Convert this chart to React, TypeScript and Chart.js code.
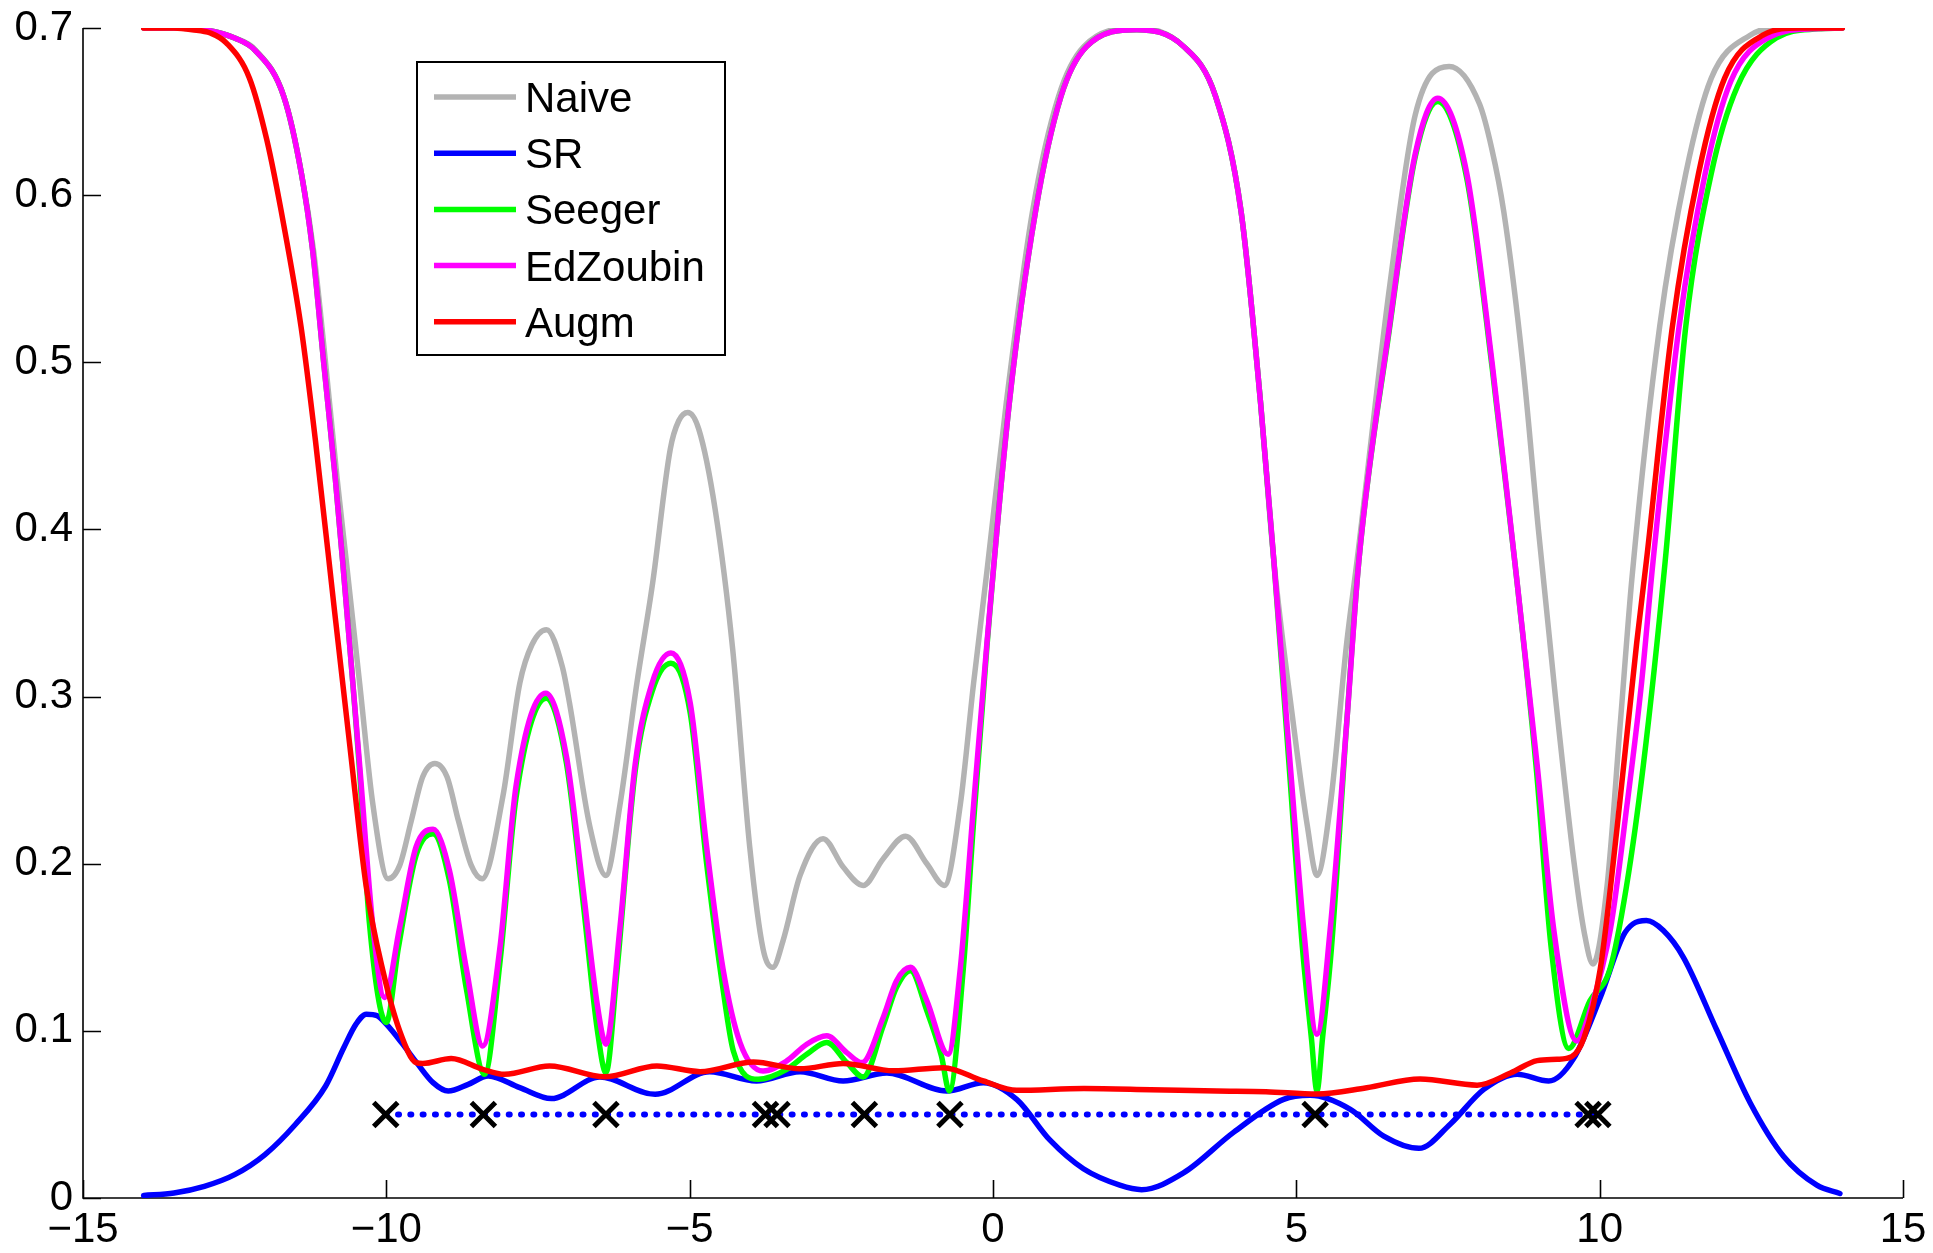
import React, { useEffect, useRef } from "react";
import { Chart, registerables } from "chart.js";

Chart.register(...registerables);

// ---- data -------------------------------------------------------------

const seriesNames = ["Naive", "SR", "Seeger", "EdZoubin", "Augm"];
const seriesColors = ["#b3b3b3", "#0000ff", "#00ff00", "#ff00ff", "#ff0000"];

const naiveX = [
  -14, -13.5, -13.0, -12.5, -12.16, -11.69, -11.4, -11.2, -11.0, -10.81, -10.66, -10.44, -10.22, -9.97, -9.78,
  -9.59, -9.4, -9.2, -9.0, -8.81, -8.6, -8.42, -8.08, -7.8, -7.6, -7.36, -7.1, -6.98, -6.65, -6.38, -6.15,
  -5.87, -5.61, -5.32, -5.18, -5.03, -4.85, -4.58, -4.29, -4.01, -3.79, -3.63, -3.46, -3.18, -2.8, -2.47,
  -2.14, -1.81, -1.44, -1.09, -0.8, -0.54, -0.32, -0.1, 0.22, 0.65, 1.08, 1.5, 2.37, 3.14, 3.67, 4.09,
  4.41, 4.63, 4.95, 5.18, 5.34, 5.56, 5.83, 6.0, 6.535, 6.96, 7.52, 8.02, 8.22, 8.42, 8.73, 8.99, 9.27, 9.58,
  9.75, 9.89, 10.12, 10.34, 10.53, 10.99, 11.42, 11.84, 12.48, 13.0, 14.0,
];
const naiveY = [
  0.7, 0.7, 0.699, 0.694, 0.687, 0.659, 0.613, 0.567, 0.499, 0.43, 0.381, 0.308, 0.235, 0.191, 0.199,
  0.2255, 0.252, 0.26, 0.252, 0.2255, 0.199, 0.191, 0.24, 0.308, 0.331, 0.34, 0.318, 0.296, 0.223, 0.193, 0.235,
  0.308, 0.368, 0.448, 0.465, 0.47, 0.46, 0.412, 0.328, 0.21, 0.149, 0.138, 0.154, 0.193, 0.215, 0.198,
  0.187, 0.203, 0.2165, 0.2, 0.187, 0.235, 0.308, 0.375, 0.476, 0.59, 0.659, 0.689, 0.7, 0.689, 0.659, 0.59,
  0.476, 0.381, 0.284, 0.223, 0.193, 0.235, 0.332, 0.381, 0.5445, 0.648, 0.677, 0.6545, 0.628, 0.59, 0.5, 0.4, 0.3, 0.2,
  0.158, 0.14, 0.186, 0.284, 0.37, 0.5216, 0.613, 0.67, 0.6957, 0.7, 0.7,
];

const srX = [
  -14, -13.5, -13.0, -12.5, -12.0, -11.5, -11.0, -10.7, -10.5, -10.33, -10.15, -10.0, -9.75, -9.5, -9.23,
  -8.98, -8.65, -8.32, -7.8, -7.28, -6.48, -5.57, -4.67, -3.9, -3.18, -2.47, -1.75, -0.76, -0.16, 0.39,
  0.94, 1.49, 2.09, 2.45, 3.14, 3.97, 4.79, 5.23, 5.89, 6.44, 7.02, 7.54, 8.09, 8.64, 9.16, 9.57, 10.01,
  10.39, 10.55, 10.77, 11.05, 11.38, 11.93, 12.48, 13.03, 13.58, 13.96,
];
const srY = [
  0.0015, 0.003, 0.007, 0.014, 0.026, 0.044, 0.067, 0.09, 0.104, 0.11, 0.109, 0.104, 0.093, 0.081, 0.069,
  0.064, 0.068, 0.073, 0.066, 0.0595, 0.0724, 0.062, 0.0756, 0.07, 0.0756, 0.07, 0.0748, 0.064, 0.069, 0.059,
  0.0346, 0.0175, 0.0077, 0.005, 0.015, 0.0394, 0.059, 0.0614, 0.053, 0.037, 0.0297, 0.0443, 0.065, 0.0741, 0.07, 0.0834, 0.12,
  0.157, 0.164, 0.166, 0.16, 0.144, 0.1005, 0.057, 0.025, 0.0077, 0.0027,
];

const seegerX = [
  -14, -13.5, -13.0, -12.5, -12.16, -11.69, -11.4, -11.215, -11.03, -10.84, -10.72, -10.44, -10.28, -10.0,
  -9.8, -9.51, -9.23, -8.96, -8.68, -8.38, -8.13, -7.86, -7.36, -7.03, -6.76, -6.52, -6.38, -6.2, -5.9,
  -5.62, -5.31, -4.99, -4.72, -4.45, -4.28, -3.87, -3.4, -3.07, -2.74, -2.41, -2.14, -1.81, -1.59, -1.36,
  -1.09, -0.85, -0.72, -0.49, -0.32, -0.1, 0.27, 0.7, 1.12, 1.545, 2.37, 3.14, 3.67, 4.09, 4.41, 4.63,
  4.88, 5.1, 5.25, 5.34, 5.43, 5.58, 5.83, 6.03, 6.535, 6.96, 7.33, 7.81, 8.23, 8.6, 8.95, 9.2, 9.49,
  9.84, 10.17, 10.44, 10.72, 11.08, 11.42, 11.84, 12.27, 12.91, 13.6, 14.0,
];
const seegerY = [
  0.7, 0.7, 0.699, 0.694, 0.6865, 0.659, 0.613, 0.567, 0.499, 0.43, 0.381, 0.255, 0.165, 0.105,
  0.15, 0.205, 0.218, 0.19, 0.125, 0.074, 0.14, 0.24, 0.299, 0.26, 0.178, 0.1, 0.075, 0.135, 0.255,
  0.303, 0.32, 0.29, 0.2, 0.125, 0.088, 0.071, 0.077, 0.086, 0.093, 0.081, 0.0724, 0.103, 0.126, 0.136,
  0.112, 0.085, 0.064, 0.137, 0.225, 0.33, 0.476, 0.59, 0.659, 0.689, 0.699, 0.689, 0.659, 0.59, 0.476, 0.381,
  0.259, 0.15, 0.095, 0.064, 0.095, 0.15, 0.284, 0.381, 0.52, 0.623, 0.656, 0.61, 0.496, 0.381, 0.259, 0.15, 0.0895,
  0.118, 0.137, 0.186, 0.259, 0.381, 0.5216, 0.613, 0.665, 0.694, 0.6995, 0.7,
];

const edZoubinX = [
  -14, -13.5, -13.0, -12.5, -12.16, -11.69, -11.4, -11.215, -11.03, -10.84, -10.72, -10.44, -10.22, -10.03,
  -9.78, -9.51, -9.23, -8.96, -8.68, -8.41, -8.13, -7.86, -7.37, -7.03, -6.76, -6.52, -6.38, -6.15, -5.9,
  -5.62, -5.31, -4.99, -4.72, -4.45, -4.17, -3.79, -3.4, -3.07, -2.74, -2.41, -2.16, -1.81, -1.59, -1.36,
  -1.09, -0.74, -0.54, -0.32, -0.1, 0.27, 0.7, 1.12, 1.545, 2.37, 3.14, 3.67, 4.09, 4.41, 4.63, 4.9,
  5.12, 5.34, 5.56, 5.83, 6.03, 6.535, 6.96, 7.33, 7.81, 8.23, 8.6, 8.97, 9.24, 9.62, 9.85, 10.18, 10.45,
  10.69, 10.88, 11.31, 11.74, 12.16, 12.8, 13.5, 14.0,
];
const edZoubinY = [
  0.7, 0.7, 0.699, 0.694, 0.6865, 0.659, 0.613, 0.567, 0.499, 0.43, 0.381, 0.259, 0.162, 0.12,
  0.162, 0.21, 0.2206, 0.196, 0.137, 0.091, 0.149, 0.247, 0.302, 0.264, 0.186, 0.115, 0.092, 0.1615, 0.259,
  0.308, 0.326, 0.296, 0.21, 0.137, 0.093, 0.076, 0.082, 0.092, 0.097, 0.087, 0.081, 0.108, 0.13, 0.138,
  0.118, 0.086, 0.137, 0.235, 0.332, 0.476, 0.59, 0.659, 0.689, 0.699, 0.689, 0.659, 0.59, 0.476, 0.381, 0.259,
  0.1615, 0.098, 0.1615, 0.284, 0.381, 0.5216, 0.6247, 0.658, 0.613, 0.4987, 0.381, 0.259, 0.1615, 0.094, 0.113, 0.1615, 0.235,
  0.308, 0.381, 0.5216, 0.613, 0.668, 0.6946, 0.6995, 0.7,
];

const augmX = [
  -14, -13.5, -13.2, -12.9, -12.635, -12.256, -11.97, -11.69, -11.405, -11.168, -10.85, -10.6, -10.33,
  -10.05, -9.78, -9.51, -9.4, -8.93, -8.41, -8.05, -7.31, -6.4, -5.54, -4.83, -3.95, -3.18, -2.47, -1.64,
  -0.82, -0.16, 0.39, 1.5, 2.6, 3.69, 4.5, 5.34, 6.16, 7.04, 7.98, 8.53, 8.97, 9.3, 9.54, 9.74, 10.01,
  10.29, 10.61, 10.77, 11.2, 11.63, 12.06, 12.69, 13.3, 14.0,
];
const augmY = [
  0.7, 0.7, 0.699, 0.697, 0.691, 0.67, 0.633, 0.582, 0.521, 0.453, 0.35, 0.27, 0.186,
  0.135, 0.1, 0.081, 0.0805, 0.0834, 0.077, 0.074, 0.079, 0.0725, 0.079, 0.0756, 0.0814, 0.0773, 0.0805, 0.0761,
  0.078, 0.07, 0.0644, 0.0655, 0.0648, 0.064, 0.0636, 0.0622, 0.066, 0.0712, 0.0675, 0.0748, 0.0822, 0.083, 0.0846, 0.0956, 0.137,
  0.2226, 0.332, 0.381, 0.5216, 0.613, 0.67, 0.6957, 0.7, 0.7,
];

// inducing inputs, shown as crosses on a dotted line
const inducingX = [-10.01, -8.4, -6.38, -3.75, -3.56, -2.12, -0.71, 5.31, 9.81, 9.97];
const inducingLevel = [0.05, 0.05, 0.05, 0.05, 0.05, 0.05, 0.05, 0.05, 0.05, 0.05];

const xTicks = [-15, -10, -5, 0, 5, 10, 15];
const yTicks = [0, 0.1, 0.2, 0.3, 0.4, 0.5, 0.6, 0.7];

// ---- helpers ----------------------------------------------------------

const FONT = '"Liberation Sans", Arial, Helvetica, sans-serif';
const LINE_W = 5.5;
const pts = (xs: number[], ys: number[]) => xs.map((x, i) => ({ x, y: ys[i] }));

const curveXs = [naiveX, srX, seegerX, edZoubinX, augmX];
const curveYs = [naiveY, srY, seegerY, edZoubinY, augmY];
const curveOrder = [4, 3, 2, 1, 0];

// left and bottom axis lines with inward ticks
const axesPlugin = {
  id: "inwardAxes",
  beforeDatasetsDraw(chart: any) {
    const { ctx, chartArea: a, scales } = chart;
    const x = scales.x;
    const y = scales.y;
    const len = 18;
    ctx.save();
    ctx.strokeStyle = "#000";
    ctx.lineWidth = 1.6;
    ctx.beginPath();
    ctx.moveTo(a.left, a.top);
    ctx.lineTo(a.left, a.bottom);
    ctx.lineTo(a.right, a.bottom);
    xTicks.forEach((v) => {
      const px = Math.round(x.getPixelForValue(v)) + 0.5;
      ctx.moveTo(px, a.bottom);
      ctx.lineTo(px, a.bottom - len);
    });
    yTicks.forEach((v) => {
      const py = Math.round(y.getPixelForValue(v)) + 0.5;
      ctx.moveTo(a.left, py);
      ctx.lineTo(a.left + len, py);
    });
    ctx.stroke();
    ctx.restore();
  },
};

// boxed legend inside the plot area
const legendPlugin = {
  id: "boxLegend",
  afterDraw(chart: any) {
    const { ctx, chartArea: a } = chart;
    const left = a.left + 334;
    const top = a.top + 34;
    const w = 308;
    const h = 293;
    const rowGap = 56.2;
    ctx.save();
    ctx.fillStyle = "#fff";
    ctx.fillRect(left, top, w, h);
    ctx.strokeStyle = "#000";
    ctx.lineWidth = 2;
    ctx.strokeRect(left, top, w, h);
    ctx.font = `42px ${FONT}`;
    ctx.textBaseline = "alphabetic";
    ctx.textAlign = "left";
    seriesNames.forEach((name, i) => {
      const cy = top + 35 + i * rowGap;
      ctx.strokeStyle = seriesColors[i];
      ctx.lineWidth = LINE_W;
      ctx.beginPath();
      ctx.moveTo(left + 17, cy);
      ctx.lineTo(left + 99, cy);
      ctx.stroke();
      ctx.fillStyle = "#000";
      ctx.fillText(name, left + 108, cy + 15);
    });
    ctx.restore();
  },
};

export default function App() {
  const canvasRef = useRef<HTMLCanvasElement>(null);

  useEffect(() => {
    const canvas = canvasRef.current;
    if (!canvas) return;

    const curves = seriesNames.map((name, i) => ({
      label: name,
      data: pts(curveXs[i], curveYs[i]),
      borderColor: seriesColors[i],
      backgroundColor: seriesColors[i],
      borderWidth: LINE_W,
      pointRadius: 0,
      fill: false,
      cubicInterpolationMode: "monotone" as const,
      borderCapStyle: "round" as const,
      borderJoinStyle: "round" as const,
      order: curveOrder[i],
    }));

    const chart = new Chart(canvas, {
      type: "line",
      data: {
        datasets: [
          ...curves,
          {
            label: "inducing line",
            data: pts(inducingX, inducingLevel),
            borderColor: "#0000ff",
            borderWidth: 6,
            borderDash: [1, 11.3],
            borderCapStyle: "round",
            pointRadius: 0,
            fill: false,
            order: -1,
          },
          {
            label: "inducing points",
            data: pts(inducingX, inducingLevel),
            showLine: false,
            pointStyle: "crossRot",
            pointRadius: 17,
            pointBorderWidth: 5,
            pointBorderColor: "#000",
            pointBackgroundColor: "#000",
            order: -2,
          },
        ] as any,
      },
      options: {
        animation: false,
        responsive: false,
        devicePixelRatio: 1,
        layout: { padding: { top: 28, right: 30, left: 0, bottom: 0 } },
        plugins: {
          legend: { display: false },
          tooltip: { enabled: false },
        },
        scales: {
          x: {
            type: "linear",
            min: -15,
            max: 15,
            grid: { display: false, drawTicks: false },
            border: { display: false },
            afterFit: (s: any) => {
              s.height = 55;
              s.paddingLeft = 0;
              s.paddingRight = 0;
            },
            ticks: {
              stepSize: 5,
              autoSkip: false,
              maxRotation: 0,
              padding: 7,
              color: "#000",
              font: { family: FONT, size: 42 },
              callback: (v: any) => (Number(v) < 0 ? "\u2212" + Math.abs(Number(v)) : String(v)),
            },
          },
          y: {
            type: "linear",
            min: 0,
            max: 0.7,
            grid: { display: false, drawTicks: false },
            border: { display: false },
            afterFit: (s: any) => {
              s.width = 83;
              s.paddingTop = 0;
              s.paddingBottom = 0;
            },
            ticks: {
              stepSize: 0.1,
              padding: 10,
              color: "#000",
              font: { family: FONT, size: 42 },
              callback: (v: any) => String(Math.round(Number(v) * 10) / 10),
            },
          },
        },
      } as any,
      plugins: [axesPlugin, legendPlugin],
    });

    return () => chart.destroy();
  }, []);

  return (
    <div style={{ position: "fixed", left: 0, top: 0, width: 1933, height: 1253, background: "#fff" }}>
      <canvas ref={canvasRef} width={1933} height={1253} style={{ display: "block" }} />
    </div>
  );
}
